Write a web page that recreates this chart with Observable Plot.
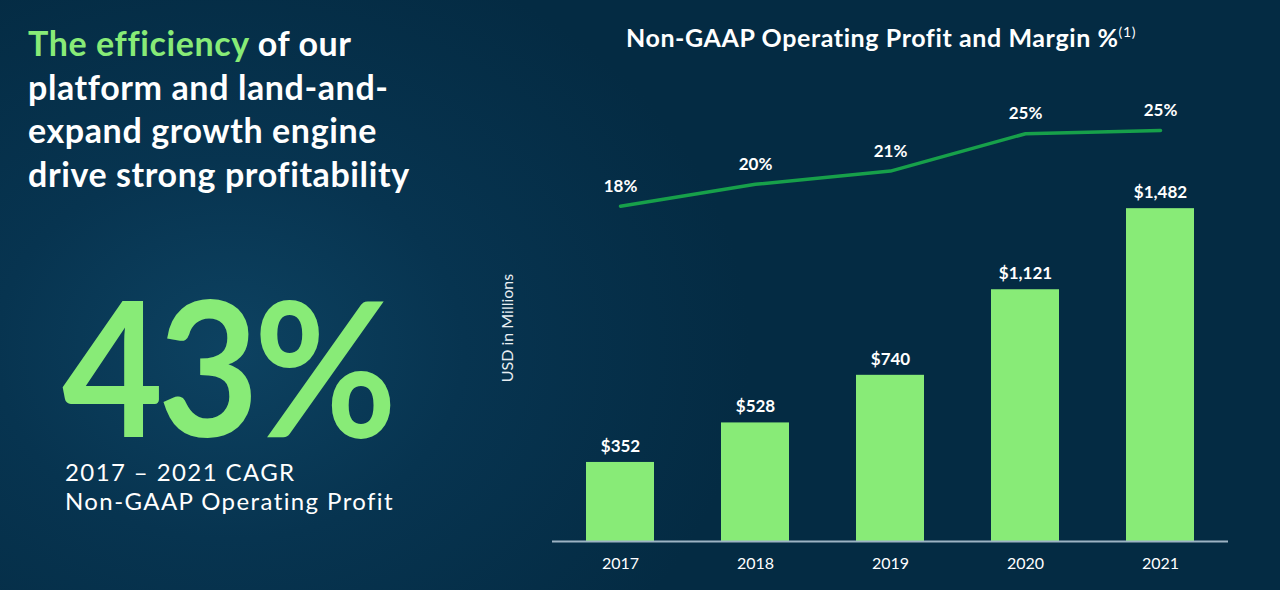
<!DOCTYPE html>
<html>
<head>
<meta charset="utf-8">
<script src="https://cdn.jsdelivr.net/npm/d3@7"></script>
<script src="https://cdn.jsdelivr.net/npm/@observablehq/plot@0.6"></script>
<style>
  html, body { margin: 0; padding: 0; }
  body {
    width: 1280px; height: 590px; overflow: hidden; position: relative;
    background: radial-gradient(ellipse 520px 420px at 230px 350px, #0d4261 0%, #073450 45%, #042b43 100%);
    font-family: Lato, "Open Sans", sans-serif; color: #fff;
  }
  .abs { position: absolute; }
  #headline { left: 28px; top: 21px; font-weight: 700; font-size: 34px; line-height: 43.5px; letter-spacing: 0.6px; white-space: nowrap; }
  #headline .hl { color: #88eb77; }
  #big { left: 62px; top: 289px; font-weight: 700; font-size: 188px; line-height: 150px; height: 150px; color: #88eb77; letter-spacing: -6px; transform: scaleX(0.93); transform-origin: left top; white-space: nowrap; }
  #cagr { left: 65px; top: 457px; font-size: 24px; line-height: 29px; font-weight: 400; letter-spacing: 1.4px; white-space: nowrap; }
  #ctitle { left: 560px; width: 642px; top: 22px; text-align: center; font-weight: 700; font-size: 25px; letter-spacing: 0.6px; white-space: nowrap; }
  #ctitle sup { font-size: 14px; font-weight: 400; vertical-align: 10px; }
  #ylab { left: 506px; top: 328px; font-size: 16px; transform: translate(-50%, -50%) rotate(-90deg); white-space: nowrap; color: #e8eef2; }
  .chart { left: 490px; top: 0; }
</style>
</head>
<body>
<div id="headline" class="abs"><span class="hl">The efficiency</span> of our<br>platform and land-and-<br>expand growth engine<br>drive strong profitability</div>
<div id="big" class="abs">43%</div>
<div id="cagr" class="abs">2017 – 2021 CAGR<br>Non-GAAP Operating Profit</div>
<div id="ctitle" class="abs">Non-GAAP Operating Profit and Margin %<sup>(1)</sup></div>
<div id="ylab" class="abs">USD in Millions</div>
<div id="bars" class="abs chart"></div>
<div id="line" class="abs chart"></div>
<script>
const years = ["2017", "2018", "2019", "2020", "2021"];
const profit = [352, 528, 740, 1121, 1482];
const margin = [18.2, 20.2, 21.4, 24.8, 25.1];
const marginLabels = ["18%", "20%", "21%", "25%", "25%"];

const barData = years.map((y, i) => ({year: y, value: profit[i]}));
const lineData = years.map((y, i) => ({year: y, value: margin[i], label: marginLabels[i]}));

const W = 790, H = 590;
const xOpts = {domain: years, paddingInner: 0.5, paddingOuter: 0.25, align: 0.5};

const bars = Plot.plot({
  width: W, height: H,
  marginLeft: 62, marginRight: 52, marginTop: 2, marginBottom: 49,
  style: {background: "transparent", color: "#fff", fontFamily: "Lato, sans-serif"},
  x: {...xOpts, label: null, axis: null},
  y: {domain: [0, 2400], axis: null},
  marks: [
    Plot.barY(barData, {x: "year", y: "value", fill: "#88eb77"}),
    Plot.ruleY([0], {stroke: "#9db3c4", strokeWidth: 2}),
    Plot.text(barData, {x: "year", y: "value", text: d => "$" + d3.format(",")(d.value), dy: -16, fill: "#fff", fontSize: 17, fontWeight: 700}),
    Plot.axisX({tickSize: 0, tickPadding: 16, fontSize: 16, fill: "#fff", label: null})
  ]
});
document.getElementById("bars").appendChild(bars);

const line = Plot.plot({
  width: W, height: H,
  marginLeft: 62, marginRight: 52, marginTop: 76, marginBottom: 184,
  style: {background: "transparent", color: "#fff", fontFamily: "Lato, sans-serif"},
  x: {...xOpts, axis: null},
  y: {domain: [0, 30], axis: null},
  marks: [
    Plot.line(lineData, {x: "year", y: "value", stroke: "#17a04a", strokeWidth: 3.5}),
    Plot.text(lineData, {x: "year", y: "value", text: "label", dy: -20, fill: "#fff", fontSize: 17, fontWeight: 700})
  ]
});
document.getElementById("line").appendChild(line);
</script>
</body>
</html>
